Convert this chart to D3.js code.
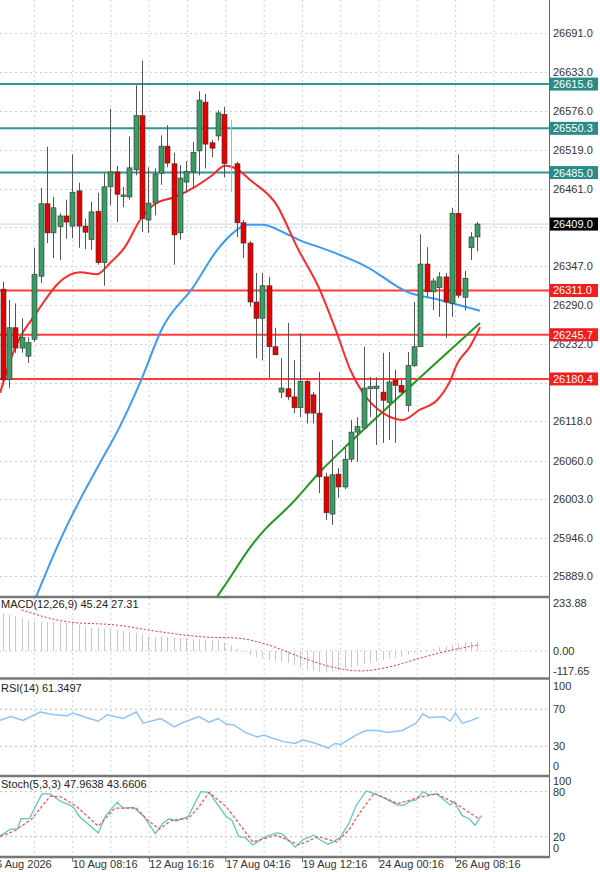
<!DOCTYPE html>
<html><head><meta charset="utf-8">
<script src="https://cdn.jsdelivr.net/npm/d3@7"></script>
<style>body{margin:0;background:#fff}svg{display:block}text{font-family:"Liberation Sans",Arial,sans-serif;font-size:11px}</style>
</head><body><svg id="c" width="600" height="872"></svg>
<script>
const open=[26313,26180,26256,26226,26214,26239,26332,26439,26396,26405,26421,26406,26458,26406,26386,26428,26352,26464,26486,26450,26449,26489,26569,26415,26440,26484,26524,26498,26396,26471,26486,26517,26589,26529,26539,26571,26498,26498,26411,26381,26294,26270,26318,26228,26161,26166,26154,26138,26177,26157,26130,26036,25981,26040,26021,26062,26102,26108,26166,26166,26161,26146,26179,26171,26141,26200,26228,26350,26309,26315,26331,26292,26425,26301,26374,26390];
const high=[26324,26297,26292,26270,26242,26374,26462,26523,26449,26425,26445,26512,26470,26417,26442,26455,26484,26579,26495,26464,26538,26614,26650,26493,26491,26540,26555,26514,26496,26502,26530,26605,26601,26533,26577,26582,26563,26501,26415,26384,26337,26337,26331,26256,26211,26263,26208,26248,26179,26161,26191,26042,26090,26049,26079,26120,26124,26228,26183,26183,26219,26220,26194,26179,26220,26294,26394,26375,26329,26338,26337,26433,26512,26340,26397,26412];
const low=[26172,26167,26219,26219,26204,26235,26322,26381,26359,26356,26387,26388,26374,26372,26371,26349,26318,26437,26412,26434,26445,26481,26397,26396,26422,26467,26493,26349,26386,26456,26462,26481,26491,26508,26532,26478,26456,26390,26359,26287,26211,26208,26182,26216,26152,26149,26130,26124,26115,26115,26012,25972,25965,26005,26018,26058,26058,26108,26124,26083,26086,26090,26086,26160,26132,26198,26228,26301,26282,26272,26241,26272,26300,26282,26356,26369];
const close=[26179,26256,26226,26242,26234,26335,26439,26396,26433,26421,26412,26456,26406,26397,26427,26352,26464,26486,26453,26452,26492,26569,26417,26440,26483,26524,26499,26393,26477,26487,26515,26592,26527,26521,26573,26498,26498,26411,26381,26294,26270,26318,26228,26216,26167,26154,26138,26177,26130,26130,26036,25983,26039,26021,26062,26102,26110,26167,26169,26170,26149,26176,26171,26161,26200,26228,26350,26309,26325,26331,26294,26425,26304,26329,26390,26409];
const markIdx=36; // lime marker bar
const maFastIdx=[-0.4,1.2,2.7,5.1,6.7,8.7,12.2,14.9,17,19.3,21.7,24.1,27.2,30.4,33.1,35.1,37.2,39.1,43.3,46.5,50.1,52.8,54.9,56.9,60.1,63.2,65.9,68.6,70.7,71.8,73.8,75.4];
const maFastVal=[26160,26208,26241,26275,26297,26321,26338,26335,26352,26375,26415,26439,26449,26464,26481,26495,26489,26474,26437,26375,26312,26248,26194,26160,26130,26120,26135,26149,26178,26203,26228,26257];
const maMidIdx=[5.1,9.1,12.2,15.4,18.5,21.7,25.3,30.1,33.9,36.4,38.6,41.1,44.3,47,51.2,57.5,63.9,69.1,75.4];
const maMidVal=[25855,25943,26002,26057,26110,26175,26257,26316,26371,26396,26408,26408,26397,26385,26371,26346,26309,26297,26281];
const maSlowIdx=[33.8,35.4,39.1,41.4,45.4,50.4,54.1,57.5,62,65.5,70.7,75.4];
const maSlowVal=[25858,25880,25932,25958,25994,26046,26080,26110,26149,26179,26223,26263];
const hLevelsTeal=[26615.6,26550.3,26485.0];
const hLevelsRed=[26311.0,26245.7,26180.4];
const lastPrice=26409.0;
const priceTicks=[26691.0,26633.0,26576.0,26519.0,26461.0,26404.0,26347.0,26290.0,26232.0,26175.0,26118.0,26060.0,26003.0,25946.0,25889.0];
const macdHist=[185,178,170,160,150,145,142,141,141,140,138,136,128,118,112,112,110,106,102,98,94,88,80,72,68,68,68,66,64,62,60,58,56,54,50,40,25,10,-5,-20,-29,-36,-44,-48,-52,-58,-68,-80,-90,-96,-102,-104,-100,-95,-90,-80,-70,-64,-58,-52,-45,-38,-32,-26,-18,-10,-3,5,12,19,25,32,39,42,44,45];
const macdSigIdx=[3,10.5,17.7,25,32,37,42,47,52,56.5,61,66,71,75.2];
const macdSigVal=[200,141,127,93,68,63,29,-29,-78,-97,-78,-34,5,30];
const rsiIdx=[-0.4,1.3,3.2,5.9,8.1,10.2,11.1,13.2,15.1,16.5,19,21.1,22.2,25,27.1,28.6,31,32.6,34,35.3,36.5,38.3,40.2,41.3,42.5,44.4,46.2,47.4,49.5,51.4,52.5,53.4,55.8,57.4,59.4,60.7,63.1,65.3,66.4,67.3,69.7,70.7,71.5,72.6,74,75.2];
const rsiVal=[58,62,58,67,64,63,66,61,57,64,60,67,55,60,51,56,62,56,60,54,53,45,40,42,39,35,33,37,33,28,33,32,42,47,47,45,47,55,65,61,62,57,66,55,58,61];
const stKIdx=[-0.4,1.2,2.3,2.9,4.2,6.2,7.5,9.2,11.1,12.1,15.1,16.2,18.1,19,20.7,22.3,24.1,25.3,26.3,27.4,29.3,31.3,32.6,35.3,36.2,37.3,38.3,39.5,41.3,43.2,44.1,46.2,47.4,49.2,50.1,51.4,52.2,53.4,54.7,55.8,57.4,58.8,60.1,62.4,63.4,64.3,65.3,66.4,67.3,68.6,70.7,71.3,72.6,73.7,74.6,75.6];
const stKVal=[21,30,30,44,44,77,77,67,60,47,25,47,66,58,59,47,24,38,44,41,47,80,79,47,42,20,19,9,19,25,24,6,16,22,16,10,13,20,38,61,81,77,72,62,62,67,69,80,76,77,62,67,48,44,35,48];
const stDIdx=[-0.4,1.9,4.5,7.5,9.2,11.7,15.1,17.7,21.1,22.8,24.7,26.7,29.3,31,32.6,35.3,37.3,39.5,43.2,46.8,49.8,52.8,54.7,56.5,58.7,62.4,65.6,68.6,71.6,75.2];
const stDVal=[20,28,43,74,73,60,34,58,58,43,30,42,44,60,79,60,38,13,22,9,20,13,29,53,78,64,72,77,64,44];
const dateTickIdx=[-1.05,11.06,23.16,35.26,47.36,59.46,71.56];
const dateLabels=["6 Aug 2026","10 Aug 08:16","12 Aug 16:16","17 Aug 04:16","19 Aug 12:16","24 Aug 00:16","26 Aug 08:16"];

const svg=d3.select("#c");
const W=549;
const x=d3.scaleLinear().domain([0,75]).range([2.7,477.45]);
const y=d3.scaleLinear().domain([25860.1,26739.7]).range([596,0]);
const yM=d3.scaleLinear().domain([0,233.88]).range([651,603]);
const yR=d3.scaleLinear().domain([0,100]).range([774,681.5]);
const yS=d3.scaleLinear().domain([0,100]).range([851.7,776.7]);
const panels=[[0,596],[598,677],[680,772],[776,857]];
const gridC="#c5d3ea";
panels.forEach((p,k)=>svg.append("clipPath").attr("id","cp"+k).append("rect").attr("x",0).attr("y",p[0]).attr("width",W).attr("height",p[1]-p[0]));
const vgrid=[];for(let v=dateTickIdx[0]+6.05;v<=82;v+=6.05)vgrid.push(v);
panels.forEach(p=>{svg.append("g").selectAll("line").data(vgrid).join("line").attr("x1",d=>x(d)).attr("x2",d=>x(d)).attr("y1",p[0]).attr("y2",p[1]).attr("stroke",gridC).attr("stroke-dasharray","2,3");});
const g0=svg.append("g").attr("clip-path","url(#cp0)");
g0.selectAll(".hg").data(priceTicks).join("line").attr("x1",0).attr("x2",W).attr("y1",d=>Math.round(y(d))+.5).attr("y2",d=>Math.round(y(d))+.5).attr("stroke",gridC).attr("stroke-dasharray","2,3");
g0.append("line").attr("x1",0).attr("x2",W).attr("y1",y(lastPrice)).attr("y2",y(lastPrice)).attr("stroke","#c8d4e4");
g0.selectAll(".tl").data(hLevelsTeal).join("line").attr("x1",0).attr("x2",W).attr("y1",d=>y(d)).attr("y2",d=>y(d)).attr("stroke","#2f9595").attr("stroke-width",2);
g0.selectAll(".rl").data(hLevelsRed).join("line").attr("x1",0).attr("x2",W).attr("y1",d=>y(d)).attr("y2",d=>y(d)).attr("stroke","#ff3b3b").attr("stroke-width",2);
const pathFrom=(idx,val,ys)=>d3.line().curve(d3.curveMonotoneX).x((d,i)=>x(idx[i])).y((d,i)=>ys(val[i]))(val);
g0.append("path").attr("d",pathFrom(maMidIdx,maMidVal,y)).attr("fill","none").attr("stroke","#3d9af5").attr("stroke-width",2);
g0.append("path").attr("d",pathFrom(maSlowIdx,maSlowVal,y)).attr("fill","none").attr("stroke","#1e9a1e").attr("stroke-width",2);
g0.append("path").attr("d",pathFrom(maFastIdx,maFastVal,y)).attr("fill","none").attr("stroke","#ff2828").attr("stroke-width",2);
const idx=d3.range(open.length);
g0.selectAll(".w").data(idx).join("line").attr("x1",i=>Math.round(x(i))+.5).attr("x2",i=>Math.round(x(i))+.5).attr("y1",i=>y(high[i])).attr("y2",i=>y(low[i])).attr("stroke",i=>i===markIdx?"#66ee44":"#555");
g0.selectAll(".b").data(idx.filter(i=>i!==markIdx)).join("rect").attr("x",i=>Math.round(x(i))-2).attr("width",5)
 .attr("y",i=>y(Math.max(open[i],close[i]))).attr("height",i=>Math.max(1.5,Math.abs(y(open[i])-y(close[i]))))
 .attr("fill",i=>close[i]>=open[i]?"#3a9c63":"#e80000").attr("stroke","#333").attr("stroke-width",0.6);
const g1=svg.append("g").attr("clip-path","url(#cp1)");
g1.append("line").attr("x1",0).attr("x2",W).attr("y1",yM(0)).attr("y2",yM(0)).attr("stroke",gridC).attr("stroke-dasharray","2,3");
g1.selectAll(".h").data(idx).join("line").attr("x1",i=>Math.round(x(i))+.5).attr("x2",i=>Math.round(x(i))+.5).attr("y1",yM(0)).attr("y2",i=>yM(macdHist[i])).attr("stroke","#c8c8c8");
g1.append("path").attr("d",pathFrom(macdSigIdx,macdSigVal,yM)).attr("fill","none").attr("stroke","#ff2a2a").attr("stroke-dasharray","2,2");
const g2=svg.append("g").attr("clip-path","url(#cp2)");
g2.selectAll(".r").data([70,30]).join("line").attr("x1",0).attr("x2",W).attr("y1",d=>yR(d)).attr("y2",d=>yR(d)).attr("stroke","#bbb").attr("stroke-dasharray","2,3");
g2.append("path").attr("d",d3.line().x((d,i)=>x(rsiIdx[i])).y(d=>yR(d))(rsiVal)).attr("fill","none").attr("stroke","#8cc4ff").attr("stroke-width",1.5);
const g3=svg.append("g").attr("clip-path","url(#cp3)");
g3.selectAll(".s").data([80,20]).join("line").attr("x1",0).attr("x2",W).attr("y1",d=>yS(d)).attr("y2",d=>yS(d)).attr("stroke","#bbb").attr("stroke-dasharray","2,3");
g3.append("path").attr("d",d3.line().x((d,i)=>x(stKIdx[i])).y(d=>yS(d))(stKVal)).attr("fill","none").attr("stroke","#5cc8c0").attr("stroke-width",1.3);
g3.append("path").attr("d",d3.line().x((d,i)=>x(stDIdx[i])).y(d=>yS(d))(stDVal)).attr("fill","none").attr("stroke","#ff4a4a").attr("stroke-dasharray","3,2").attr("stroke-width",1.2);
svg.append("line").attr("x1",W+.5).attr("x2",W+.5).attr("y1",0).attr("y2",857).attr("stroke","#666");
[597,678.5,776,857].forEach(v=>svg.append("line").attr("x1",0).attr("x2",W+1).attr("y1",v).attr("y2",v).attr("stroke","#777").attr("stroke-width",2.5));
const ax=svg.append("g");
ax.selectAll("t").data(priceTicks.filter(d=>d!==26404&&d!==26175)).join("text").attr("x",553).attr("y",d=>y(d)+4).attr("fill","#333").text(d=>d.toFixed(1));
const box=(v,fill,col)=>{const yy=y(v);ax.append("rect").attr("x",550).attr("y",yy-6.5).attr("width",48).attr("height",13).attr("fill",fill);ax.append("text").attr("x",553).attr("y",yy+4).attr("fill",col).text(v.toFixed(1));};
hLevelsTeal.forEach(v=>box(v,"#2a8c8a","#fff"));
hLevelsRed.forEach(v=>box(v,"#f01e1e","#fff"));
box(lastPrice,"#000","#fff");
const lab=(t,yy)=>ax.append("text").attr("x",553).attr("y",yy).attr("fill","#333").text(t);
lab("233.88",607);lab("0.00",yM(0)+4);lab("-117.65",675);
[[100,690],[70,yR(70)+4],[30,yR(30)+4],[0,770]].forEach(d=>lab(d[0],d[1]));
[[100,785],[80,yS(80)+4],[20,yS(20)+4],[0,852]].forEach(d=>lab(d[0],d[1]));
ax.append("text").attr("x",1).attr("y",608).attr("fill","#222").text("MACD(12,26,9) 45.24 27.31");
ax.append("text").attr("x",1).attr("y",692).attr("fill","#222").text("RSI(14) 61.3497");
ax.append("text").attr("x",1).attr("y",788).attr("fill","#222").text("Stoch(5,3,3) 47.9638 43.6606");
dateTickIdx.forEach((d,i)=>{const xx=x(d);svg.append("line").attr("x1",xx).attr("x2",xx).attr("y1",857).attr("y2",862).attr("stroke","#666");svg.append("text").attr("x",xx).attr("y",868).attr("fill","#333").text(dateLabels[i]);});
</script></body></html>
